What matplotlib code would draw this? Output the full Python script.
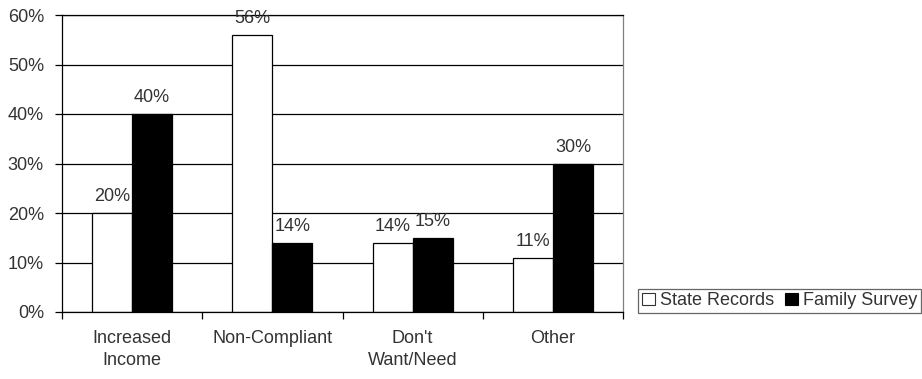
import matplotlib
matplotlib.use("Agg")
import matplotlib.pyplot as plt
from matplotlib.patches import Patch
from matplotlib.ticker import FixedLocator, PercentFormatter

# reasons for leaving, percent of cases
categories = ["Increased\nIncome", "Non-Compliant", "Don't\nWant/Need", "Other"]
state_records = [20, 56, 14, 11]
family_survey = [40, 14, 15, 30]
series_names = ["State Records", "Family Survey"]

plt.rcParams['font.family'] = ['Liberation Sans', 'DejaVu Sans']
plt.rcParams['font.size'] = 13
txt_color = '#333333'

fig = plt.figure(figsize=(9.22, 3.79), dpi=100)
ax = fig.add_axes([62 / 922, 67 / 379, 561 / 922, 297 / 379])

x = range(len(categories))
w = 40 / 140
bars_a = ax.bar([i - w / 2 for i in x], state_records, width=w, color='white',
                edgecolor='black', linewidth=0.9, zorder=2)
bars_b = ax.bar([i + w / 2 for i in x], family_survey, width=w, color='black',
                edgecolor='black', linewidth=0.9, zorder=2)

for bars, vals in ((bars_a, state_records), (bars_b, family_survey)):
    for b, v in zip(bars, vals):
        ax.annotate(f"{v}%", (b.get_x() + b.get_width() / 2, v),
                    xytext=(0, 5.5), textcoords='offset points',
                    ha='center', va='bottom', color=txt_color)

ax.set_xlim(-0.5, len(categories) - 0.5)
ax.set_ylim(0, 60)
ax.yaxis.set_major_locator(FixedLocator([0, 10, 20, 30, 40, 50, 60]))
ax.yaxis.set_major_formatter(PercentFormatter(decimals=0))
ax.grid(axis='y', color='black', linewidth=0.9, zorder=0)
ax.set_axisbelow(True)

ax.set_xticks(list(x))
ax.set_xticklabels(categories, color=txt_color, linespacing=1.4)
ax.set_xticks([i - 0.5 for i in range(len(categories) + 1)], minor=True)
ax.tick_params(axis='x', which='major', length=0, pad=13)
ax.tick_params(axis='x', which='minor', length=5, width=0.9, direction='out')
ax.tick_params(axis='y', length=5, width=0.9, pad=8, labelcolor=txt_color)

for side in ('left', 'bottom', 'top'):
    ax.spines[side].set_color('black')
    ax.spines[side].set_linewidth(0.9)
ax.spines['right'].set_color('#808080')
ax.spines['right'].set_linewidth(0.9)

handles = [Patch(facecolor='white', edgecolor='#333333', linewidth=0.8),
           Patch(facecolor='black', edgecolor='black', linewidth=0.8)]
leg = fig.legend(handles, series_names, loc='lower left',
                 bbox_to_anchor=(638 / 922, 66 / 379), ncol=2,
                 frameon=True, fancybox=False, edgecolor='#404040',
                 handlelength=0.72, handleheight=0.67, handletextpad=0.28,
                 columnspacing=0.6, borderpad=0.2, borderaxespad=0)
leg.get_frame().set_linewidth(0.9)
for t in leg.get_texts():
    t.set_color(txt_color)

fig.savefig("out.png", dpi=100)
